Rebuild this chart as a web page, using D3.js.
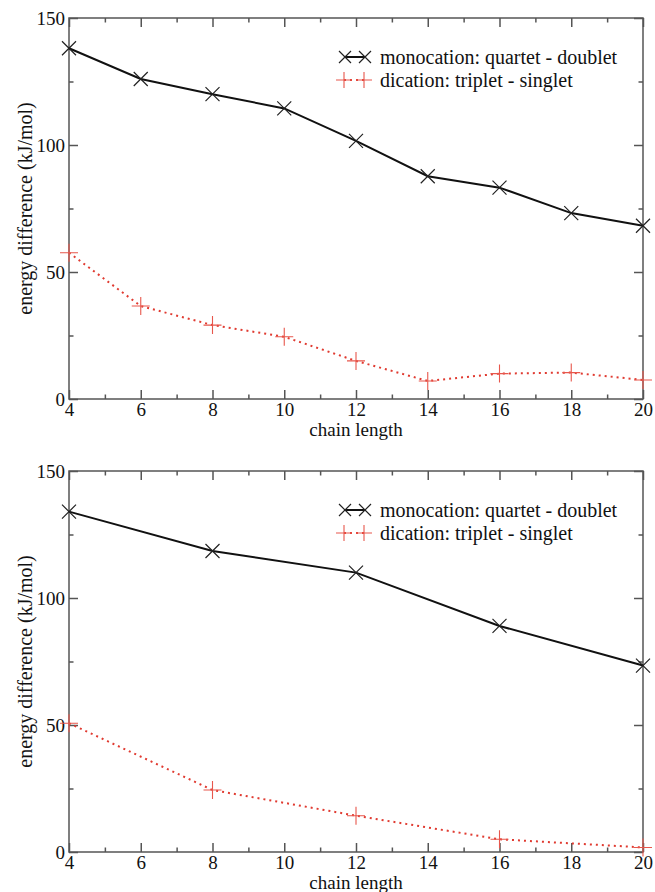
<!DOCTYPE html>
<html>
<head>
<meta charset="utf-8">
<script src="https://cdn.jsdelivr.net/npm/d3@7"></script>
<style>
  body { margin: 0; background: #fff; }
  svg, svg text { font-family: "Liberation Serif", "Times New Roman", Times, "Nimbus Roman", "DejaVu Serif", "Noto Serif", serif; }
</style>
</head>
<body>
<script>
// top panel: every chain length
const chainTop = [4, 6, 8, 10, 12, 14, 16, 18, 20];
const monoTop = [138.1, 126.0, 120.0, 114.4, 101.6, 87.7, 83.2, 73.2, 68.2];
const diTop = [57.6, 36.6, 29.1, 24.5, 15.0, 7.1, 10.0, 10.4, 7.5];

// bottom panel: every fourth
const chainBottom = [4, 8, 12, 16, 20];
const monoBottom = [134.0, 118.5, 110.0, 89.0, 73.4];
const diBottom = [50.7, 24.4, 14.3, 5.0, 1.8];

const xTicks = [4, 6, 8, 10, 12, 14, 16, 18, 20];
const xMinor = [5, 7, 9, 11, 13, 15, 17, 19];
const yTicks = [0, 50, 100, 150];
const yMinor = [25, 75, 125];

const seriesNames = ["monocation: quartet - doublet", "dication: triplet - singlet"];

const width = 655, height = 892;
const plotLeft = 69, plotRight = 643, plotH = 381;
const red = "#e03a30";
const serif = '"Liberation Serif", "Times New Roman", Times, "Nimbus Roman", "DejaVu Serif", serif';

const svg = d3.select("body").append("svg")
    .attr("width", width)
    .attr("height", height);

function drawPanel(top, xs, mono, di) {
    const g = svg.append("g");
    const x = d3.scaleLinear().domain([4, 20]).range([plotLeft, plotRight]);
    const y = d3.scaleLinear().domain([0, 150]).range([top + plotH, top]);

    const axisStyle = sel => {
        sel.attr("font-family", serif).attr("font-size", 19);
        sel.select(".domain").remove();
        sel.selectAll("line").attr("stroke", "#555").attr("stroke-width", 1.5);
        sel.selectAll("text").attr("fill", "#111");
    };

    // major + minor ticks on all four sides, pointing inward
    g.append("g").attr("transform", "translate(0," + (top + plotH) + ")")
        .call(d3.axisBottom(x).tickValues(xTicks).tickSize(-9).tickSizeOuter(0).tickPadding(3))
        .call(axisStyle);
    g.append("g").attr("transform", "translate(0," + (top + plotH) + ")")
        .call(d3.axisBottom(x).tickValues(xMinor).tickSize(-4.5).tickFormat(""))
        .call(axisStyle);
    g.append("g").attr("transform", "translate(0," + top + ")")
        .call(d3.axisTop(x).tickValues(xTicks).tickSize(-9).tickFormat(""))
        .call(axisStyle);
    g.append("g").attr("transform", "translate(0," + top + ")")
        .call(d3.axisTop(x).tickValues(xMinor).tickSize(-4.5).tickFormat(""))
        .call(axisStyle);
    g.append("g").attr("transform", "translate(" + plotLeft + ",0)")
        .call(d3.axisLeft(y).tickValues(yTicks).tickSize(-9).tickPadding(4))
        .call(axisStyle);
    g.append("g").attr("transform", "translate(" + plotLeft + ",0)")
        .call(d3.axisLeft(y).tickValues(yMinor).tickSize(-4.5).tickFormat(""))
        .call(axisStyle);
    g.append("g").attr("transform", "translate(" + plotRight + ",0)")
        .call(d3.axisRight(y).tickValues(yTicks).tickSize(-9).tickFormat(""))
        .call(axisStyle);
    g.append("g").attr("transform", "translate(" + plotRight + ",0)")
        .call(d3.axisRight(y).tickValues(yMinor).tickSize(-4.5).tickFormat(""))
        .call(axisStyle);

    g.append("rect")
        .attr("x", plotLeft).attr("y", top)
        .attr("width", plotRight - plotLeft).attr("height", plotH)
        .attr("fill", "none").attr("stroke", "#555").attr("stroke-width", 1.5);

    const line = d3.line()
        .x(d => x(d[0])).y(d => y(d[1]));

    const monoPts = xs.map((c, i) => [c, mono[i]]);
    const diPts = xs.map((c, i) => [c, di[i]]);

    g.append("path").datum(diPts).attr("d", line)
        .attr("fill", "none").attr("stroke", red).attr("stroke-width", 2)
        .attr("stroke-dasharray", "2,4");
    g.append("path").datum(monoPts).attr("d", line)
        .attr("fill", "none").attr("stroke", "#111").attr("stroke-width", 2);

    const cross = (sel, px, py, r) => sel.append("path")
        .attr("d", `M${px - r},${py - r}L${px + r},${py + r}M${px - r},${py + r}L${px + r},${py - r}`)
        .attr("stroke", "#222").attr("stroke-width", 1.2).attr("fill", "none");
    const plus = (sel, px, py, r) => sel.append("path")
        .attr("d", `M${px - r},${py}L${px + r},${py}M${px},${py - r}L${px},${py + r}`)
        .attr("stroke", "#e8574c").attr("stroke-width", 1.1).attr("fill", "none");

    monoPts.forEach(d => cross(g, x(d[0]), y(d[1]), 7));
    diPts.forEach(d => plus(g, x(d[0]), y(d[1]), 9));

    // legend
    const ly1 = top + 39, ly2 = top + 62;
    g.append("line").attr("x1", 345).attr("x2", 365).attr("y1", ly1).attr("y2", ly1)
        .attr("stroke", "#111").attr("stroke-width", 2);
    cross(g, 345, ly1, 6);
    cross(g, 365, ly1, 6);
    g.append("line").attr("x1", 344).attr("x2", 364).attr("y1", ly2).attr("y2", ly2)
        .attr("stroke", red).attr("stroke-width", 2).attr("stroke-dasharray", "2,4");
    plus(g, 344, ly2, 8);
    plus(g, 364, ly2, 8);
    g.append("text").attr("x", 380).attr("y", ly1 + 7)
        .attr("font-family", serif).attr("font-size", 20).attr("fill", "#111").text(seriesNames[0]);
    g.append("text").attr("x", 380).attr("y", ly2 + 7)
        .attr("font-family", serif).attr("font-size", 20).attr("fill", "#111").text(seriesNames[1]);

    // axis titles
    g.append("text")
        .attr("x", (plotLeft + plotRight) / 2).attr("y", top + plotH + 37)
        .attr("text-anchor", "middle").attr("font-family", serif).attr("font-size", 19).attr("fill", "#111")
        .text("chain length");
    g.append("text")
        .attr("transform", `translate(32,${top + plotH / 2}) rotate(-90)`)
        .attr("text-anchor", "middle").attr("font-family", serif).attr("font-size", 20).attr("fill", "#111")
        .text("energy difference (kJ/mol)");
}

drawPanel(18, chainTop, monoTop, diTop);
drawPanel(471, chainBottom, monoBottom, diBottom);
</script>
</body>
</html>
